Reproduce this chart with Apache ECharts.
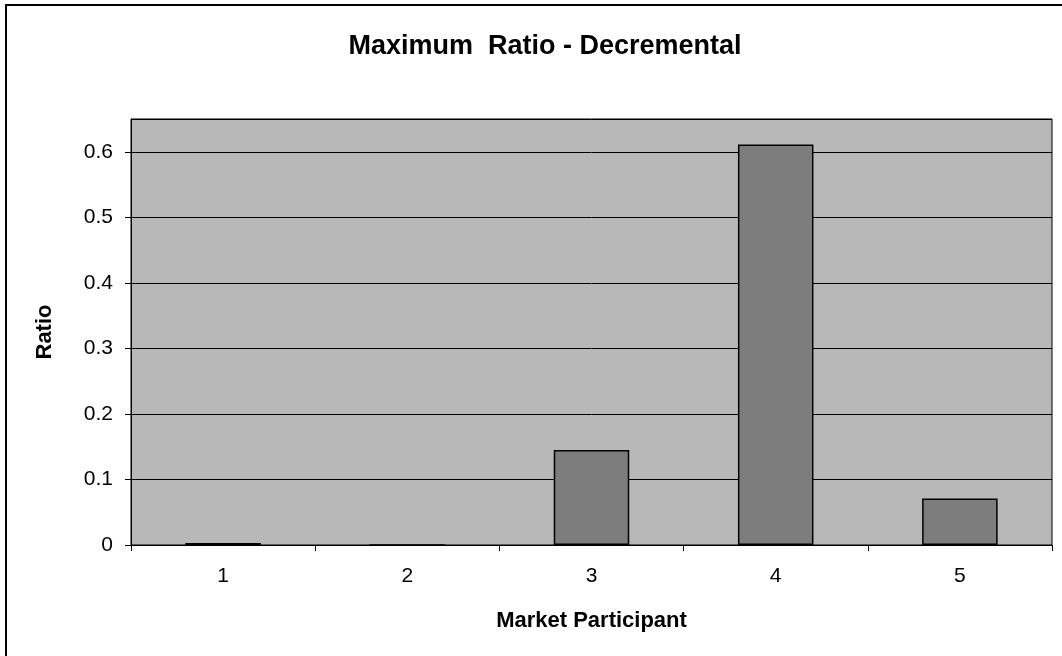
<!DOCTYPE html>
<html>
<head>
<meta charset="utf-8">
<script src="https://cdn.jsdelivr.net/npm/echarts@6/dist/echarts.min.js"></script>
<style>
  html, body { margin: 0; padding: 0; background: #fff; }
  #chart { width: 1062px; height: 656px; }
</style>
</head>
<body>
<div id="chart"></div>
<script>
// data
var participants = ['1', '2', '3', '4', '5'];
var ratios = [0.003, 0, 0.145, 0.611, 0.071];

var myChart = echarts.init(document.getElementById('chart'));
var font = '"Liberation Sans", Arial, sans-serif';

var option = {
    backgroundColor: '#fff',
    animation: false,
    title: {
        text: 'Maximum  Ratio - Decremental',
        left: 540,
        top: 28,
        textAlign: 'center',
        textStyle: {
            fontFamily: font,
            fontSize: 27,
            fontWeight: 'bold',
            color: '#000'
        }
    },
    graphic: [
        {
            // outer chart frame (cut off at right and bottom)
            type: 'rect',
            shape: { x: 6, y: 5, width: 1100, height: 700 },
            style: { fill: null, stroke: '#000', lineWidth: 2 },
            silent: true
        }
    ],
    grid: {
        left: 131,
        right: 10,
        top: 119,
        bottom: 111,
        show: true,
        backgroundColor: '#b8b8b8',
        borderColor: '#000',
        borderWidth: 1
    },
    xAxis: {
        type: 'category',
        data: participants,
        name: 'Market Participant',
        nameLocation: 'middle',
        nameGap: 65,
        nameTextStyle: {
            fontFamily: font,
            fontSize: 22,
            fontWeight: 'bold',
            color: '#000'
        },
        axisLine: { lineStyle: { color: '#000', width: 1 } },
        axisTick: { show: true, alignWithLabel: false, length: 6, lineStyle: { color: '#000' } },
        axisLabel: {
            fontFamily: font,
            fontSize: 21,
            color: '#000',
            margin: 21
        },
        splitLine: { show: false }
    },
    yAxis: {
        type: 'value',
        min: 0,
        max: 0.65,
        interval: 0.1,
        name: 'Ratio',
        nameLocation: 'middle',
        nameGap: 75,
        nameTextStyle: {
            fontFamily: font,
            fontSize: 22,
            fontWeight: 'bold',
            color: '#000'
        },
        axisLine: { show: true, lineStyle: { color: '#000', width: 1 } },
        axisTick: { show: true, length: 6, lineStyle: { color: '#000' } },
        axisLabel: {
            fontFamily: font,
            fontSize: 21,
            color: '#000',
            margin: 18,
            showMaxLabel: false
        },
        splitLine: { show: true, lineStyle: { color: '#000', width: 1 } }
    },
    series: [
        {
            name: 'Ratio',
            type: 'bar',
            data: ratios,
            barWidth: '41%',
            itemStyle: {
                color: '#7d7d7d',
                borderColor: '#000',
                borderWidth: 1.5
            }
        }
    ]
};
option && myChart.setOption(option);
</script>
</body>
</html>
